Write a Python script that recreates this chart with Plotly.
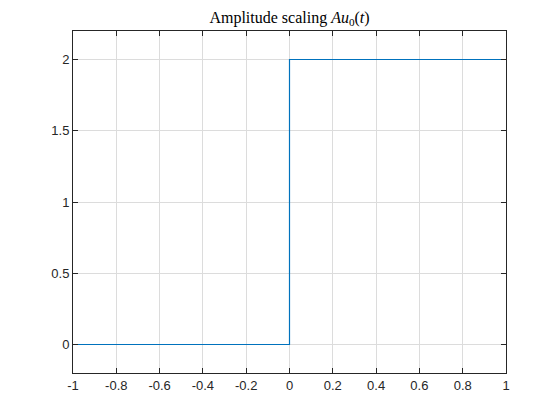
import plotly.graph_objects as go

# step signal A*u0(t), A = 2
t_vals = [-1, 0, 0, 1]
y_vals = [0, 0, 2, 2]

x_ticks = [-1, -0.8, -0.6, -0.4, -0.2, 0, 0.2, 0.4, 0.6, 0.8, 1]
x_labels = ["-1", "-0.8", "-0.6", "-0.4", "-0.2", "0", "0.2", "0.4", "0.6", "0.8", "1"]
y_ticks = [0, 0.5, 1, 1.5, 2]
y_labels = ["0", "0.5", "1", "1.5", "2"]

fig = go.Figure()
fig.add_trace(
    go.Scatter(
        x=t_vals,
        y=y_vals,
        mode="lines",
        line=dict(color="#0072BD", width=1.2),
        showlegend=False,
    )
)

axis_common = dict(
    showgrid=True,
    gridcolor="#dcdcdc",
    gridwidth=1,
    zeroline=False,
    showline=True,
    linecolor="#262626",
    linewidth=1,
    mirror="ticks",
    ticks="inside",
    ticklen=5,
    tickcolor="#262626",
    tickfont=dict(family="Liberation Sans, Arial, sans-serif", size=13, color="#262626"),
)

# page body adds an 8px margin, so the figure is 552x412
fig.update_layout(
    width=552,
    height=412,
    plot_bgcolor="white",
    paper_bgcolor="white",
    margin=dict(l=65, r=54, t=23, b=47),
    title=dict(
        text="Amplitude scaling <i>Au</i><sub>0</sub>(<i>t</i>)",
        x=(65 + 498) / 2 / 552,
        xanchor="center",
        y=1 - 9 / 412,
        yanchor="middle",
        font=dict(family="Liberation Serif, DejaVu Serif, serif", size=16, color="#000000"),
    ),
)
fig.update_xaxes(range=[-1, 1], tickvals=x_ticks, ticktext=x_labels, **axis_common)
fig.update_yaxes(range=[-0.2, 2.2], tickvals=y_ticks, ticktext=y_labels, **axis_common)

fig.write_html("out.html")
